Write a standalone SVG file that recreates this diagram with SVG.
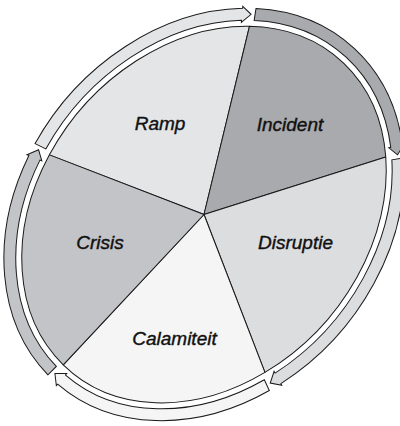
<svg xmlns="http://www.w3.org/2000/svg" width="400" height="426" viewBox="0 0 400 426">
<style>
.w{stroke:#1a1a1a;stroke-width:1;stroke-linejoin:round}
.a{stroke:#1a1a1a;stroke-width:1;stroke-linejoin:miter}
.t{font-family:"Liberation Sans",Arial,sans-serif;font-style:italic;font-size:19px;fill:#111;stroke:#111;stroke-width:0.4;text-anchor:middle}
</style>
<rect width="400" height="426" fill="#ffffff"/>
<g id="ramp"><path class="w" fill="#e4e5e7" transform="translate(204 214.5) rotate(-49)" d="M0 0 L-56.4 -155.8 A206 162 0 0 1 172.0 -89.2 Z"/><text class="t" x="160" y="130">Ramp</text></g>
<g id="incident"><path class="w" fill="#a9aaad" transform="translate(204 214.5) rotate(-49)" d="M0 0 L172.0 -89.2 A206 162 0 0 1 162.6 99.5 Z"/><text class="t" x="290" y="131">Incident</text></g>
<g id="disruptie"><path class="w" fill="#dcdddf" transform="translate(204 214.5) rotate(-49)" d="M0 0 L162.6 99.5 A206 162 0 0 1 -79.2 149.6 Z"/><text class="t" x="295.5" y="249">Disruptie</text></g>
<g id="calamiteit"><path class="w" fill="#f5f5f5" transform="translate(204 214.5) rotate(-49)" d="M0 0 L-79.2 149.6 A206 162 0 0 1 -205.8 -7.6 Z"/><text class="t" x="174.5" y="345">Calamiteit</text></g>
<g id="crisis"><path class="w" fill="#c3c4c8" transform="translate(204 214.5) rotate(-49)" d="M0 0 L-205.8 -7.6 A206 162 0 0 1 -56.4 -155.8 Z"/><text class="t" x="100" y="249">Crisis</text></g>
<g id="connectors" transform="translate(204 214.5) rotate(-49)">
<path class="a" fill="#e4e5e7" d="M-54.3 -162.4 A212 168 0 0 1 171.2 -99.1 L169.6 -97.9 L182.0 -95.8 L182.5 -107.3 L180.9 -106.1 A224 180 0 0 0 -57.3 -174.0 Z"/>
<path class="a" fill="#a9aaad" d="M179.4 -89.5 A212 168 0 0 1 173.2 96.9 L171.6 95.7 L172.0 106.9 L184.7 104.9 L183.0 103.8 A224 180 0 0 0 189.6 -95.9 Z"/>
<path class="a" fill="#dcdddf" d="M164.5 105.9 A212 168 0 0 1 -73.1 157.7 L-72.4 155.8 L-83.8 160.6 L-77.9 170.8 L-77.2 169.0 A224 180 0 0 0 173.8 113.5 Z"/>
<path class="a" fill="#f5f5f5" d="M-85.1 153.9 A212 168 0 0 1 -212 0.8 L-210 0.7 L-217.8 -8.2 L-226 0.8 L-224 0.8 A224 180 0 0 0 -90.0 164.8 Z"/>
<path class="a" fill="#c3c4c8" d="M-211.5 -11.8 A212 168 0 0 1 -66.6 -159.5 L-65.9 -157.6 L-59.7 -167.3 L-71.0 -172.8 L-70.3 -170.9 A224 180 0 0 0 -223.4 -12.6 Z"/>
</g>
</svg>
